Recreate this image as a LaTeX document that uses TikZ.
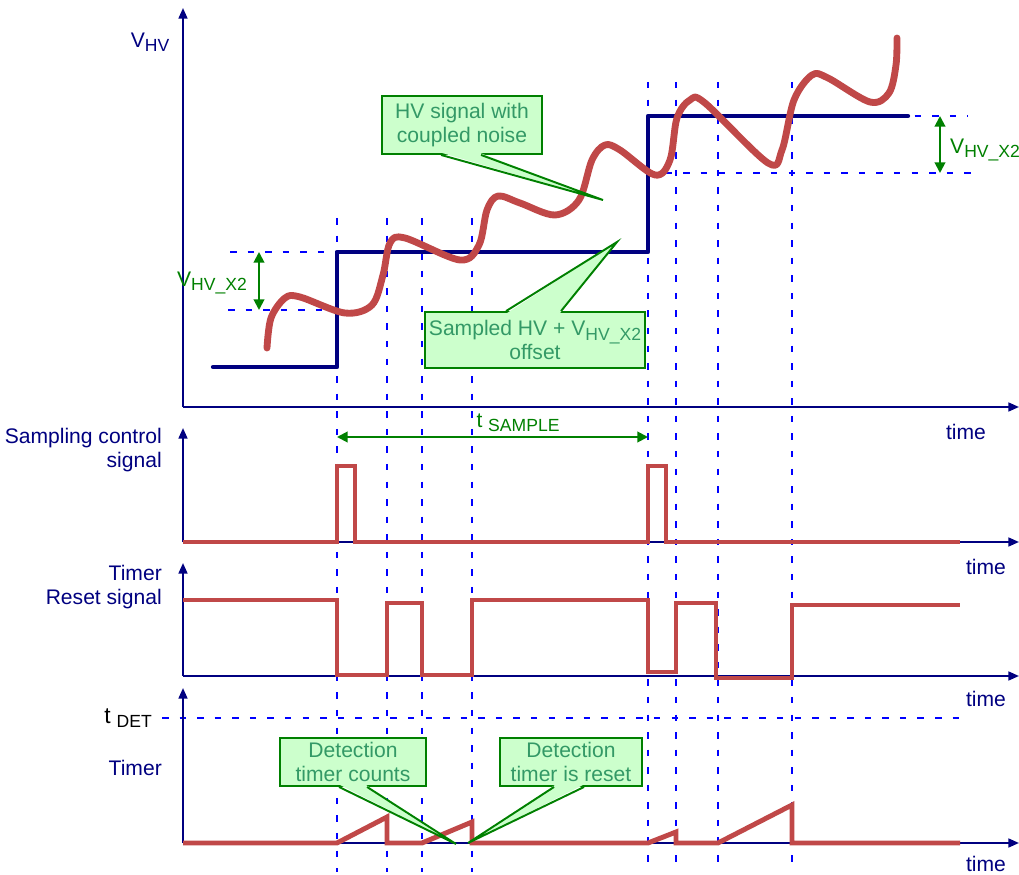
\documentclass[tikz,border=0pt]{standalone}
\usepackage{fontspec}
\setmainfont{Liberation Sans}
\usetikzlibrary{arrows.meta,calc}
\definecolor{navy}{RGB}{0,0,128}
\definecolor{sigred}{RGB}{192,72,72}
\definecolor{dblue}{RGB}{0,0,255}
\definecolor{cgreen}{RGB}{0,128,0}
\definecolor{cfill}{RGB}{204,255,204}
\definecolor{ctext}{RGB}{51,153,102}
\newcommand{\sbs}[1]{\raisebox{-0.4ex}{\fontsize{10}{10}\selectfont #1}}
\begin{document}
\begin{tikzpicture}[x=0.02cm,y=-0.02cm,font=\fontsize{12}{13.5}\selectfont,
  axis/.style={navy, line width=1.2pt, -{Triangle[length=6pt,width=5pt]}},
  grid/.style={dblue, line width=1.3pt, dash pattern=on 3.7pt off 6.3pt},
  hvstep/.style={navy, line width=2.4pt, line join=round, line cap=round},
  noise/.style={sigred, line width=3.9pt, line cap=round, line join=round},
  sig/.style={sigred, line width=2.8pt, line join=miter},
  callbox/.style={draw=cgreen, fill=cfill, line width=1.1pt, text=ctext, align=center, inner sep=2pt},
  ptr/.style={cgreen, line width=1.1pt, line join=miter},
  dimarrow/.style={cgreen, line width=1.1pt, {Triangle[length=6pt,width=6pt]}-{Triangle[length=6pt,width=6pt]}},
  lbl/.style={navy, align=right, anchor=east},
  timelbl/.style={navy}]
\useasboundingbox (0,0) rectangle (1019,875);

% vertical dashed lines
\foreach \x in {337,387,422,472} \draw[grid] (\x,218) -- (\x,872);
\foreach \x in {648,676,718,792} \draw[grid] (\x,82) -- (\x,872);
% horizontal dashed lines
\draw[grid] (230,252) -- (337,252);
\draw[grid] (228,310) -- (337,310);
\draw[grid] (862,116) -- (968,116);
\draw[grid] (648,173) -- (972,173);
\draw[grid] (162,718) -- (960,718);

% axes
\draw[axis] (183,407) -- (183,8);
\draw[axis] (183,407) -- (1019,407);
\draw[axis] (183,542) -- (183,428);
\draw[axis] (183,542) -- (1019,542);
\draw[axis] (183,676) -- (183,563);
\draw[axis] (183,676) -- (1019,676);
\draw[axis] (183,843) -- (183,688);
\draw[axis] (183,843) -- (1019,843);

% axis labels
\node[navy] (vhv) at (150,42) {V\sbs{HV}};
\node[timelbl] (time1) at (966,432) {time};
\node[timelbl] (time2) at (986,567) {time};
\node[timelbl] (time3) at (986,699) {time};
\node[timelbl] (time4) at (986,864) {time};
\node[lbl] (sclbl) at (168,450) {Sampling control\\signal};
\node[lbl] (trlbl) at (168,587) {Timer\\Reset signal};
\node[anchor=east] (tdet) at (158,718) {{\fontsize{13}{14}\selectfont t} \sbs{DET}};
\node[lbl] (tmlbl) at (168,768) {Timer};

% HV step
\draw[hvstep] (213,367) -- (337,367) -- (337,252) -- (648,252) -- (648,116) -- (908,116);

% noisy HV signal
\draw[noise] plot[smooth, tension=0.55] coordinates {
 (267,348) (271,318) (285,298) (300,297) (345,313) (372,305) (383,275) (390,243) (405,238)
 (460,260) (479,245) (487,210) (498,196) (520,203) (555,215) (579,200) (592,160) (605,145)
 (620,150) (655,175) (670,160) (677,118) (690,100) (705,103) (768,163) (782,150) (794,100)
 (812,75) (828,78) (870,102) (889,93) (896,65) (897,38)};

% V_HV_X2 dimension arrows
\draw[dimarrow] (259,252) -- (259,310);
\node[cgreen, anchor=east] (vx2l) at (253,283) {V\sbs{HV\_X2}};
\draw[dimarrow] (940,116) -- (940,173);
\node[cgreen, anchor=west] (vx2r) at (944,150) {V\sbs{HV\_X2}};

% t_SAMPLE
\draw[dimarrow] (337,437) -- (648,437);
\node[cgreen] (tsample) at (518,423) {t \sbs{SAMPLE}};

% sampling control signal
\draw[sig] (183,542) -- (337,542) -- (337,466) -- (355,466) -- (355,542) -- (648,542) -- (648,466) -- (666,466) -- (666,542) -- (960,542);

% timer reset signal
\draw[sig] (183,600) -- (337,600) -- (337,675) -- (387,675) -- (387,603) -- (422,603) -- (422,675) -- (472,675) -- (472,600) -- (648,600) -- (648,672) -- (676,672) -- (676,603) -- (716,603) -- (716,678) -- (792,678) -- (792,605) -- (960,605);

% timer
\draw[sig] (183,843) -- (337,843) -- (387,817) -- (387,843) -- (422,843) -- (472,822) -- (472,843) -- (648,843) -- (676,832) -- (676,843) -- (718,843) -- (792,805) -- (792,843) -- (960,843);

% callout 1
\node[callbox, minimum width=3.2cm, minimum height=1.16cm] (c1) at (462,125) {HV signal with\\coupled noise};
\coordinate (p1) at (603,200);
\fill[cfill] ($(c1.south west)+(61,-2)$) -- (p1) -- ($(c1.south west)+(99,-2)$) -- cycle;
\draw[ptr] ($(c1.south west)+(60,0)$) -- (p1) -- ($(c1.south west)+(100,0)$);

% callout 2
\node[callbox, minimum width=4.4cm, minimum height=1.12cm] (c2) at (535,340) {Sampled HV + V\sbs{HV\_X2}\\offset};
\coordinate (p2) at (617,242);
\fill[cfill] ($(c2.north west)+(83,2)$) -- (p2) -- ($(c2.north west)+(136,2)$) -- cycle;
\draw[ptr] ($(c2.north west)+(82,0)$) -- (p2) -- ($(c2.north west)+(137,0)$);

% callout 3
\node[callbox, minimum width=2.92cm, minimum height=0.96cm] (c3) at (353,762) {Detection\\timer counts};
\coordinate (p3) at (456,844);
\fill[cfill] ($(c3.south west)+(61,-2)$) -- (p3) -- ($(c3.south west)+(87,-2)$) -- cycle;
\draw[ptr] ($(c3.south west)+(60,0)$) -- (p3) -- ($(c3.south west)+(88,0)$);

% callout 4
\node[callbox, minimum width=2.84cm, minimum height=0.96cm] (c4) at (571,762) {Detection\\timer is reset};
\coordinate (p4) at (468,843);
\fill[cfill] ($(c4.south west)+(56,-2)$) -- (p4) -- ($(c4.south west)+(84,-2)$) -- cycle;
\draw[ptr] ($(c4.south west)+(55,0)$) -- (p4) -- ($(c4.south west)+(85,0)$);
\end{tikzpicture}
\end{document}
